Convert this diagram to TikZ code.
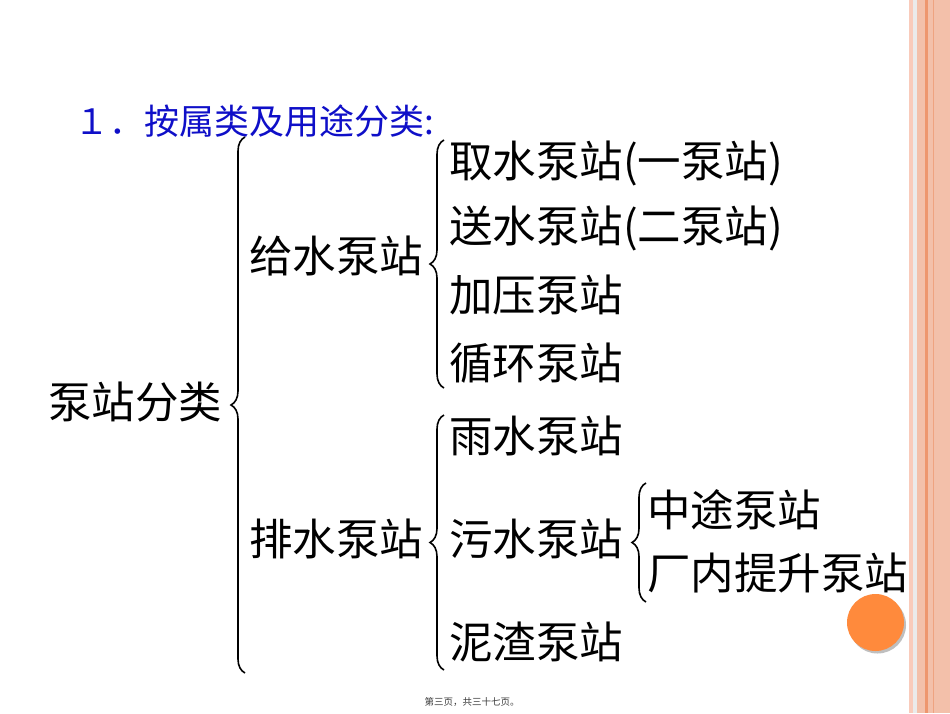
\documentclass[tikz,border=0pt]{standalone}
\usepackage{fontspec}
\newfontfamily\cjk{Noto Sans CJK SC}
\usetikzlibrary{decorations.pathreplacing}
\definecolor{titleblue}{RGB}{15,15,200}
\definecolor{orb}{RGB}{255,138,60}
\definecolor{bandA}{RGB}{243,192,170}
\definecolor{bandB}{RGB}{238,150,110}
\definecolor{bandC}{RGB}{249,203,187}
\definecolor{foot}{RGB}{60,60,60}
\tikzset{
  lbl/.style={anchor=base west, inner sep=0pt, font=\cjk\fontsize{43.5}{43.5}\selectfont},
  ttl/.style={anchor=base west, inner sep=0pt, text=titleblue, font=\cjk\fontsize{35}{35}\selectfont},
  brc/.style={decorate, decoration={brace, amplitude=14pt, aspect=0.5}, line width=1.6pt}
}
\begin{document}
\begin{tikzpicture}[x=1pt,y=-1pt]
\useasboundingbox (0,0) rectangle (950,713);
\fill[white] (0,0) rectangle (950,713);
% right decorative stripes
\fill[bandC] (909,0) rectangle (912.5,713);
\fill[black!8] (913,0) rectangle (917,713);
\fill[bandA] (917,0) rectangle (950,713);
\fill[bandB] (925,0) rectangle (927.5,713);
\fill[bandB!70!bandA] (932.5,0) rectangle (934,713);
% orange circle with shadow
\fill[black!25] (877.5,625) circle (28.5);
\fill[orb] (875.5,622.5) circle (28.5);
% title
\node[ttl] (title) at (74,134) {１．按属类及用途分类:};
% labels
\node[lbl] (root) at (48,418) {泵站分类};
\node[lbl] (gs) at (249,272) {给水泵站};
\node[lbl] (ps) at (249,555) {排水泵站};
\node[lbl] (g1) at (449,177) {取水泵站(一泵站)};
\node[lbl] (g2) at (449,242) {送水泵站(二泵站)};
\node[lbl] (g3) at (449,311) {加压泵站};
\node[lbl] (g4) at (449,379) {循环泵站};
\node[lbl] (p1) at (449,452) {雨水泵站};
\node[lbl] (p2) at (449,555) {污水泵站};
\node[lbl] (p3) at (449,658) {泥渣泵站};
\node[lbl] (w1) at (647,526) {中途泵站};
\node[lbl] (w2) at (647,589) {厂内提升泵站};
% brace end points
\coordinate (b1t) at (245,137); \coordinate (b1b) at (245,673);
\coordinate (b2t) at (444,140); \coordinate (b2b) at (444,388);
\coordinate (b3t) at (444,415); \coordinate (b3b) at (444,670);
\coordinate (b4t) at (646,483); \coordinate (b4b) at (646,602);
\draw[brc] (b1b) -- (b1t);
\draw[brc] (b2b) -- (b2t);
\draw[brc] (b3b) -- (b3t);
\draw[brc] (b4b) -- (b4t);
% footer
\node[anchor=base, inner sep=0pt, text=foot, font=\cjk\fontsize{9.5}{9.5}\selectfont] (footer) at (472,705) {第三页，共三十七页。};
\end{tikzpicture}
\end{document}
